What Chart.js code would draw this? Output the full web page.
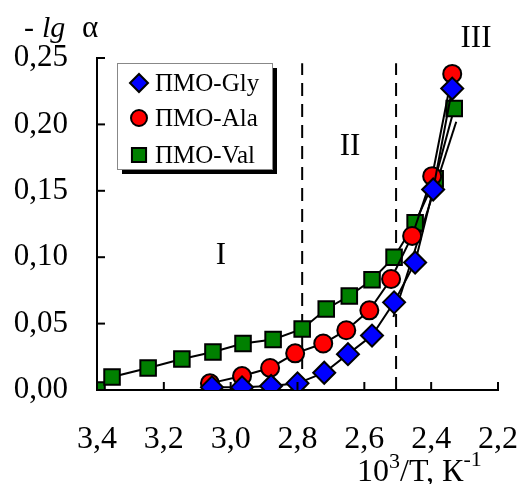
<!DOCTYPE html>
<html>
<head>
<meta charset="utf-8">
<script src="https://cdn.jsdelivr.net/npm/chart.js@4"></script>
<style>
  body { margin: 0; background: #fff; }
  canvas { display: block; }
</style>
</head>
<body>
<canvas id="chart" width="524" height="484"></canvas>
<script>
// values
var glyX = [3.056, 2.966, 2.879, 2.800, 2.720, 2.649, 2.577, 2.511, 2.448, 2.394, 2.337];
var glyY = [0.002, 0.002, 0.003, 0.005, 0.013, 0.027, 0.041, 0.066, 0.096, 0.151, 0.227];
var alaX = [3.062, 2.966, 2.882, 2.807, 2.723, 2.654, 2.585, 2.520, 2.457, 2.397, 2.337];
var alaY = [0.005, 0.0105, 0.0166, 0.0276, 0.035, 0.045, 0.060, 0.0836, 0.116, 0.161, 0.238];
var valX = [3.400, 3.355, 3.247, 3.146, 3.053, 2.963, 2.873, 2.786, 2.714, 2.645, 2.577, 2.511, 2.448, 2.388, 2.331];
var valY = [0.000, 0.0098, 0.0166, 0.0233, 0.0286, 0.035, 0.038, 0.046, 0.061, 0.0708, 0.083, 0.100, 0.126, 0.159, 0.212];
var fitX = [2.513, 2.325];
var fitY = [0.055, 0.202];
var borderX = [2.786, 2.505];
var borderTop = 0.246;
var seriesNames = ['ПМО-Gly', 'ПМО-Ala', 'ПМО-Val'];
var regionNames = ['I', 'II', 'III'];
var xTicks = [3.4, 3.2, 3.0, 2.8, 2.6, 2.4, 2.2];
var yTicks = [0, 0.05, 0.10, 0.15, 0.20, 0.25];

var serif = '"Liberation Serif", "Times New Roman", serif';

function pts(xs, ys) {
    return xs.map(function(x, i) { return {x: x, y: ys[i]}; });
}

function series(label, xs, ys, color, style, r, order) {
    return {
        label: label,
        data: pts(xs, ys),
        showLine: true,
        borderColor: '#000',
        borderWidth: 2,
        backgroundColor: color,
        pointBackgroundColor: color,
        pointBorderColor: '#000',
        pointBorderWidth: 2,
        pointStyle: style,
        pointRadius: r,
        order: order
    };
}

function dashed(x) {
    return {
        label: 'border',
        data: [{x: x, y: 0}, {x: x, y: borderTop}],
        showLine: true,
        borderColor: '#000',
        borderWidth: 2,
        borderDash: [13, 8],
        pointRadius: 0,
        order: 10
    };
}

// inside tick marks, labels and legend drawn on top
var extras = {
    id: 'extras',
    afterDraw: function(chart) {
        var c = chart.ctx, xs = chart.scales.x, ys = chart.scales.y;
        var a = chart.chartArea;
        c.save();
        c.strokeStyle = '#000';
        c.lineWidth = 2;
        xs.ticks.forEach(function(t) {
            var px = xs.getPixelForValue(t.value);
            c.beginPath(); c.moveTo(px, a.bottom); c.lineTo(px, a.bottom - 8); c.stroke();
        });
        ys.ticks.forEach(function(t) {
            var py = ys.getPixelForValue(t.value);
            c.beginPath(); c.moveTo(a.left, py); c.lineTo(a.left + 8, py); c.stroke();
        });

        // y title
        c.fillStyle = '#000';
        c.textBaseline = 'alphabetic';
        c.textAlign = 'left';
        c.font = '30px ' + serif;
        c.fillText('-', 24, 37);
        c.font = 'italic 30px ' + serif;
        c.fillText('lg', 42, 37);
        c.font = '31px ' + serif;
        c.fillText('α', 82, 37);

        // x title
        var x0 = 357, base = 481;
        c.font = '32px ' + serif;
        c.fillText('10', x0, base);
        x0 += c.measureText('10').width;
        c.font = '22px ' + serif;
        c.fillText('3', x0, base - 13);
        x0 += c.measureText('3').width;
        c.font = '32px ' + serif;
        c.fillText('/T, К', x0, base);
        x0 += c.measureText('/T, К').width;
        c.font = '22px ' + serif;
        c.fillText('-1', x0, base - 15);

        // region labels
        c.font = '31px ' + serif;
        c.textAlign = 'center';
        c.textBaseline = 'middle';
        c.fillText(regionNames[0], 221, 256);
        c.fillText(regionNames[1], 350, 147);
        c.fillText(regionNames[2], 476, 39);

        // legend box with shadow
        var lx = 117, ly = 63, lw = 155, lh = 106;
        c.fillStyle = '#000';
        c.fillRect(lx + lw + 1, ly + 5, 4, lh);
        c.fillRect(lx + 5, ly + lh + 1, lw, 4);
        c.fillStyle = '#fff';
        c.fillRect(lx, ly, lw, lh);
        c.strokeStyle = '#888';
        c.lineWidth = 1;
        c.strokeRect(lx + 0.5, ly + 0.5, lw, lh);
        var rows = [83, 118, 155];
        chart.data.datasets.slice(0, 3).forEach(function(ds, i) {
            c.fillStyle = ds.pointBackgroundColor;
            c.strokeStyle = '#000';
            c.lineWidth = 2;
            Chart.helpers.drawPoint(c, {pointStyle: ds.pointStyle, radius: [9, 8, 10][i], borderWidth: 2}, 139, rows[i]);
            c.fillStyle = '#000';
            c.font = '25px ' + serif;
            c.textAlign = 'left';
            c.textBaseline = 'middle';
            c.fillText(ds.label, 155, rows[i] + 1);
        });
        c.restore();
    }
};

var ctx = document.getElementById('chart');
var myChart = new Chart(ctx, {
    type: 'scatter',
    data: {
        datasets: [
            series(seriesNames[0], glyX, glyY, '#0000ff', 'rectRot', 11, 1),
            series(seriesNames[1], alaX, alaY, '#ff0000', 'circle', 9, 2),
            series(seriesNames[2], valX, valY, '#008000', 'rect', 11, 3),
            {
                label: 'fit',
                data: pts(fitX, fitY),
                showLine: true,
                borderColor: '#000',
                borderWidth: 2,
                pointRadius: 0,
                order: 4
            },
            dashed(borderX[0]),
            dashed(borderX[1])
        ]
    },
    options: {
        responsive: false,
        animation: false,
        layout: {padding: {top: 58, right: 0, left: 0, bottom: 0}},
        plugins: {legend: {display: false}, tooltip: {enabled: false}},
        scales: {
            x: {
                type: 'linear',
                reverse: true,
                min: 2.2,
                max: 3.4,
                afterBuildTicks: function(s) { s.ticks = xTicks.map(function(v) { return {value: v}; }); },
                afterFit: function(s) { s.height = 94; s.paddingLeft = 0; s.paddingRight = 26; },
                grid: {drawOnChartArea: false, drawTicks: false},
                border: {color: '#000', width: 2},
                ticks: {
                    color: '#000',
                    padding: 30,
                    maxRotation: 0,
                    font: {family: serif, size: 32},
                    callback: function(v) { return v.toFixed(1).replace('.', ','); }
                }
            },
            y: {
                min: 0,
                max: 0.25,
                afterBuildTicks: function(s) { s.ticks = yTicks.map(function(v) { return {value: v}; }); },
                afterFit: function(s) { s.width = 97; },
                grid: {drawOnChartArea: false, drawTicks: false},
                border: {color: '#000', width: 2},
                ticks: {
                    color: '#000',
                    padding: 29,
                    font: {family: serif, size: 31},
                    callback: function(v) { return v.toFixed(2).replace('.', ','); }
                }
            }
        }
    },
    plugins: [extras]
});
</script>
</body>
</html>
